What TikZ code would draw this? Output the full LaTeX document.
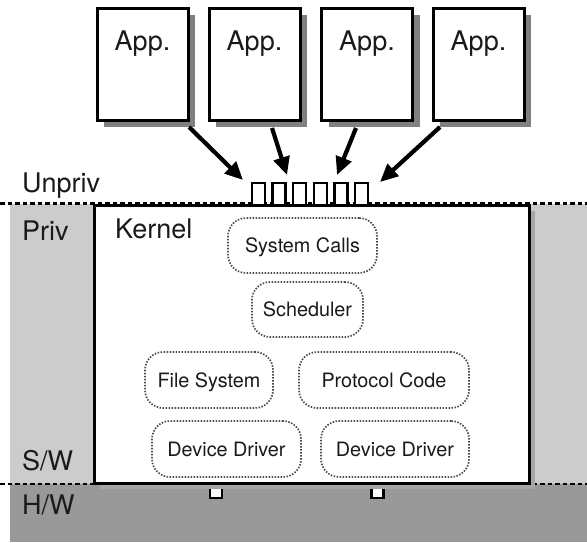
\documentclass[tikz,border=0pt]{standalone}
\usepackage{fontspec}
\setmainfont{TeX Gyre Heros}
\usetikzlibrary{arrows.meta,shadows}
\definecolor{lgray}{HTML}{CCCCCC}
\definecolor{dgray}{HTML}{999999}
\definecolor{shad}{HTML}{808080}
\definecolor{kshad}{HTML}{A6A6A6}
\definecolor{txt}{HTML}{1A1A1A}
\begin{document}
\begin{tikzpicture}[x=1pt,y=-1pt,
  bigtext/.style={font=\fontsize{27}{30}\selectfont, text=txt, inner sep=0pt},
  comp/.style={draw=black!70, line width=1.7pt, dash pattern=on 1.5pt off 1.5pt,
    rounded corners=18pt, minimum height=55pt, inner sep=0pt,
    font=\fontsize{19.8}{22}\selectfont, text=txt, text height=14.2pt, text depth=0pt},
  appbox/.style={draw=black, line width=3pt, fill=white, minimum width=91pt,
    minimum height=112pt, inner sep=0pt,
    drop shadow={shadow xshift=7pt, shadow yshift=-7pt, fill=shad, opacity=1}},
  kernelbox/.style={draw=black, line width=3pt, fill=white, minimum width=435pt,
    minimum height=278pt, inner sep=0pt,
    drop shadow={shadow xshift=6pt, shadow yshift=-6pt, fill=kshad, opacity=1}},
  gate/.style={draw=black, line width=2.5pt, fill=white, inner sep=0pt},
  dashline/.style={draw=black, line width=2.2pt, dash pattern=on 4.5pt off 3pt},
  callarrow/.style={draw=black, line width=4.2pt, -{Triangle[length=18pt,width=16pt]}}
]
\useasboundingbox (0,0) rectangle (587,542);
% background bands
\fill[lgray] (10,204) rectangle (587,484);
\fill[dgray] (10,484) rectangle (587,542);
\draw[dashline] (0,203.5) -- (587,203.5);
\draw[dashline] (0,484) -- (587,484);
% system call gates
\foreach \i in {0,...,5}{
  \node[gate, minimum width=13pt, minimum height=22pt] (g\i) at (258.5+20.6*\i,194) {};
}
% hardware gates
\node[gate, minimum width=12pt, minimum height=15pt] (hw1) at (216,490.5) {};
\node[gate, minimum width=12pt, minimum height=15pt] (hw2) at (377.5,490.5) {};
% kernel
\node[kernelbox] (kernel) at (311.5,344) {};
\node[bigtext, anchor=base west] (kerneltxt) at (115,238) {Kernel};
\node[comp, minimum width=149pt] (syscalls) at (302.5,245.5) {System Calls};
\node[comp, minimum width=111pt] (sched) at (307.5,309.5) {Scheduler};
\node[comp, minimum width=128pt, minimum height=56pt] (fs) at (209,380) {File System};
\node[comp, minimum width=170pt, minimum height=56pt] (proto) at (384,380) {Protocol Code};
\node[comp, minimum width=149pt, minimum height=56pt] (dd1) at (226.5,449) {Device Driver};
\node[comp, minimum width=148pt, minimum height=56pt] (dd2) at (395,449) {Device Driver};
% applications
\node[appbox] (app1) at (142.5,64) {};
\node[appbox] (app2) at (254.5,64) {};
\node[appbox] (app3) at (367,64) {};
\node[appbox] (app4) at (478.5,64) {};
\foreach \n in {1,...,4}{
  \node[bigtext, anchor=base] (apptxt\n) at (app\n.center |- 0,50) {App.};
}
% arrows
\coordinate (s1) at (189,127); \coordinate (e1) at (243,180);
\coordinate (s2) at (272,128); \coordinate (e2) at (287,175);
\coordinate (s3) at (356,128); \coordinate (e3) at (337,175);
\coordinate (s4) at (440,127); \coordinate (e4) at (380,182);
\foreach \n in {1,...,4}{
  \draw[callarrow] (s\n) -- (e\n);
}
% side labels
\node[bigtext, anchor=base west] (unpriv) at (22,192) {Unpriv};
\node[bigtext, anchor=base west] (priv) at (22,240) {Priv};
\node[bigtext, anchor=base west] (sw) at (22,470) {S/W};
\node[bigtext, anchor=base west] (hw) at (22,514) {H/W};
\end{tikzpicture}
\end{document}
